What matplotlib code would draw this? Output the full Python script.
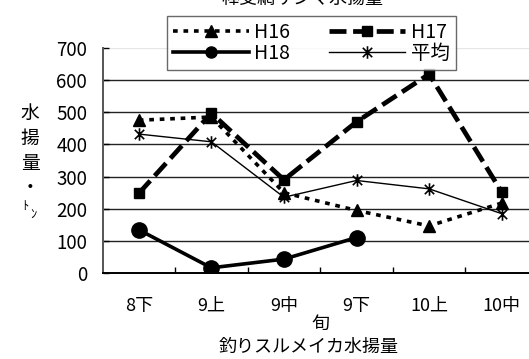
import matplotlib
matplotlib.use("Agg")
import matplotlib.pyplot as plt
from matplotlib.path import Path
from matplotlib.ticker import FixedLocator

plt.rcParams['font.family'] = ['Noto Sans CJK JP', 'DejaVu Sans']

# 旬別の水揚量（トン）
periods = ["8下", "9上", "9中", "9下", "10上", "10中"]
h16 = [475, 485, 250, 195, 147, 218]
h17 = [248, 497, 290, 470, 618, 252]
h18 = [135, 17, 44, 111]
avg = [432, 408, 236, 288, 262, 185]
yticks = [0, 100, 200, 300, 400, 500, 600, 700]

# 縦棒＋X の米印マーカー
star = Path([(0, -1), (0, 1), (-0.75, -0.75), (0.75, 0.75), (-0.75, 0.75), (0.75, -0.75)],
            [Path.MOVETO, Path.LINETO, Path.MOVETO, Path.LINETO, Path.MOVETO, Path.LINETO])

W, H = 529, 359
fig = plt.figure(figsize=(W / 100, H / 100), dpi=100)
ax = fig.add_axes([102.5 / W, (H - 273.3) / H, 435.5 / W, 225.6 / H])

x = list(range(len(periods)))
l16, = ax.plot(x, h16, color="black", lw=2.6, ls=(0, (1.3, 1.6)), marker="^", ms=8,
               label="H16", zorder=3)
l17, = ax.plot(x, h17, color="black", lw=3.4, ls=(0, (3.6, 1.4)), marker="s", ms=7,
               label="H17", zorder=4)
l18, = ax.plot(x[:len(h18)], h18, color="black", lw=2.6, marker="o", ms=11,
               label="H18", zorder=5)
lav, = ax.plot(x, avg, color="black", lw=1.0, marker=star, ms=9, mew=1.2,
               label="平均", zorder=6)

ax.set_xlim(-0.5, len(periods) - 0.5)
ax.set_ylim(0, 700)
ax.set_yticks(yticks)
ax.set_xticks(x)
ax.set_xticklabels(periods)
ax.xaxis.set_minor_locator(FixedLocator([i + 0.5 for i in range(len(periods) - 1)]))

ax.yaxis.grid(True, color="#222222", lw=1.0)
ax.yaxis.get_gridlines()[-1].set_color("#e6e6e6")
ax.set_axisbelow(True)

for s in ("top", "right"):
    ax.spines[s].set_visible(False)
ax.spines["left"].set_color("#555555")
ax.spines["left"].set_linewidth(1.4)
ax.spines["bottom"].set_color("black")
ax.spines["bottom"].set_linewidth(1.4)

ax.tick_params(axis="y", direction="in", length=4, width=1, pad=11, labelsize=13.5)
ax.tick_params(axis="x", which="major", length=0, pad=17, labelsize=13)
ax.tick_params(axis="x", which="minor", direction="in", length=4, width=1)

ax.set_xlabel("旬", fontsize=13, labelpad=0)

# 縦書きの軸ラベル
for ch, yy in zip(["水", "揚", "量", "・"], [113, 138, 163, 187]):
    fig.text(30 / W, 1 - yy / H, ch, fontsize=13.5, ha="center", va="center")
fig.text(25 / W, 1 - 206 / H, "ﾄ", fontsize=9, ha="center", va="center")
fig.text(33 / W, 1 - 214 / H, "ﾝ", fontsize=9, ha="center", va="center")

fig.text(302 / W, 1 + 1 / H, "棒受網サンマ水揚量", fontsize=13, ha="center", va="center")
fig.text(309 / W, 1 - 347 / H, "釣りスルメイカ水揚量", fontsize=13, ha="center", va="center")

# 凡例は H16・H17 を上段、H18・平均 を下段に
leg = fig.legend([l16, l18, l17, lav], ["H16", "H18", "H17", "平均"],
                 loc="upper left", bbox_to_anchor=(167 / W, 1 - 16 / H), ncol=2,
                 fontsize=14, frameon=True, fancybox=False, handlelength=3.9,
                 handletextpad=0.3, columnspacing=2.0, borderpad=0.3,
                 labelspacing=0.0, borderaxespad=0)
leg.get_frame().set_edgecolor("#444444")
leg.get_frame().set_linewidth(1.0)
# 凡例の丸印は本体より小さく
leg.get_lines()[1].set_markersize(8)

fig.savefig("out.png", dpi=100)
